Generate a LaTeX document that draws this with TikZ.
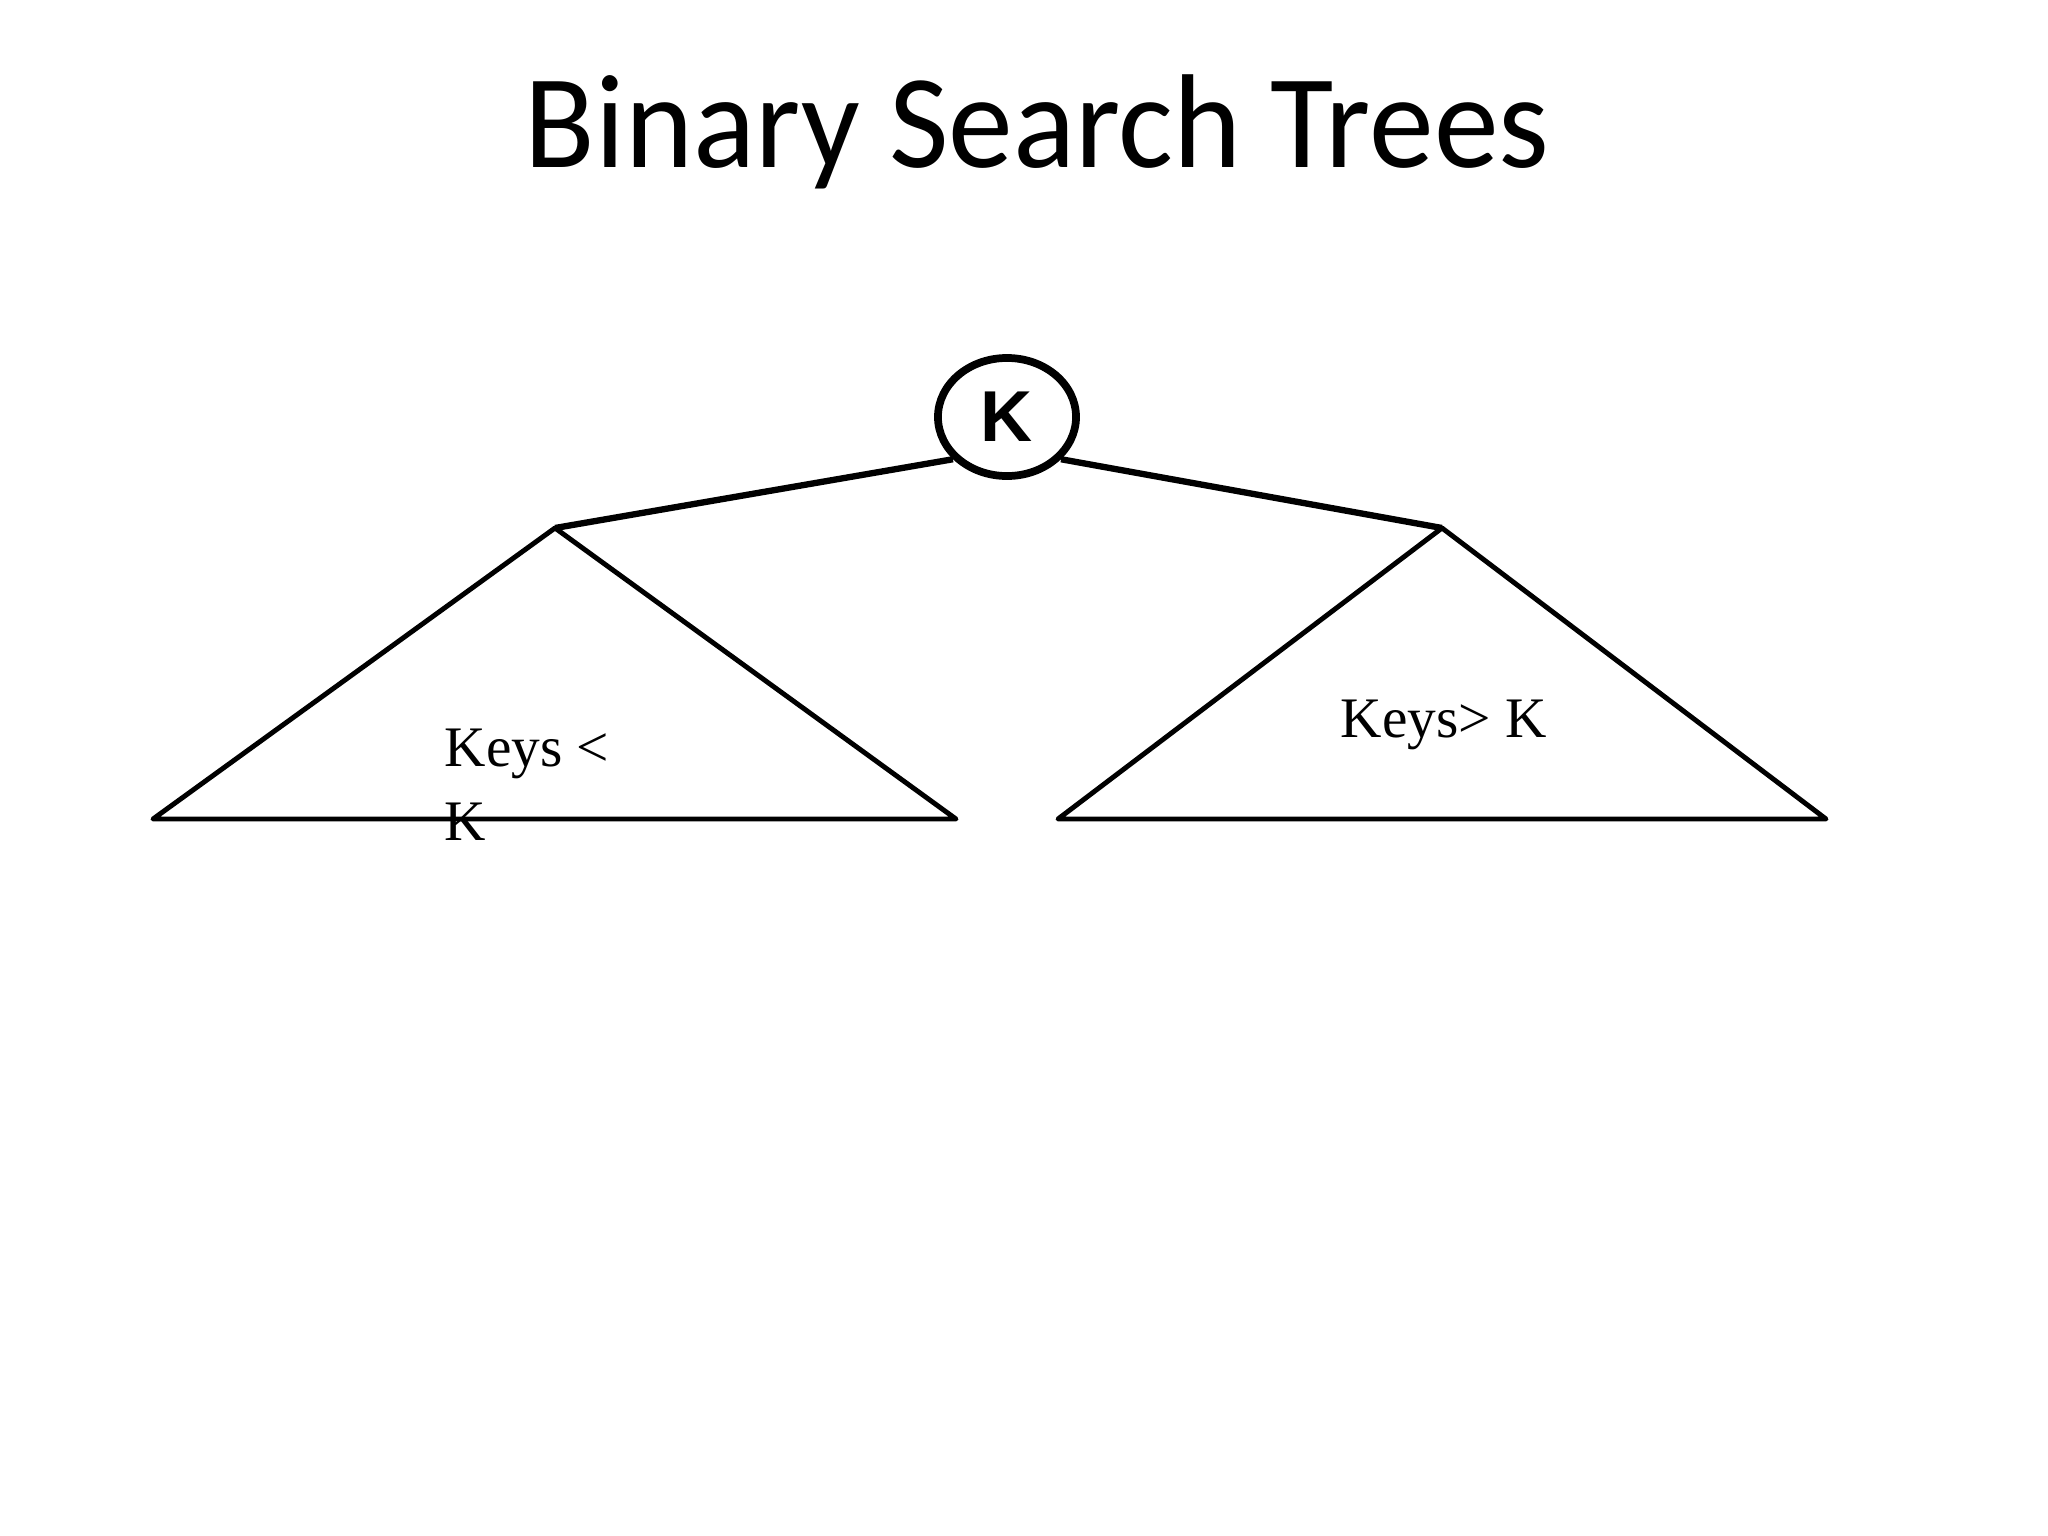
\documentclass[tikz,border=0pt]{standalone}
\usepackage{fontspec}
\setmainfont{Liberation Serif}
\newfontfamily\titlefont{Carlito}
\newfontfamily\rootfont{Liberation Sans}
\usetikzlibrary{shapes.geometric}

\begin{document}
\begin{tikzpicture}[x=0.01cm, y=-0.01cm,
    edge/.style={line width=1.8pt},
    subtree/.style={line width=1.4pt, line join=round, line cap=round},
    keylabel/.style={inner sep=0pt, font=\fontsize{16.3}{21}\selectfont}]
    \useasboundingbox (0,0) rectangle (2048,1536);

    % Draw the title
    \node[anchor=base] (title) at (1037,167) {\titlefont\scalebox{0.97}[1]{\fontsize{38}{44}\selectfont Binary Search Trees}};

    % Draw the root node
    \node[ellipse, draw, line width=2.2pt, inner sep=0pt, minimum width=1.38cm, minimum height=1.18cm] (root) at (1007,417) {\rootfont\bfseries\fontsize{20.5}{24}\selectfont K};

    % Apexes and base corners of the two subtrees
    \coordinate (lapex) at (555,528);
    \coordinate (lleft) at (153,819);
    \coordinate (lright) at (956,819);
    \coordinate (rapex) at (1442,528);
    \coordinate (rleft) at (1058,819);
    \coordinate (rright) at (1826,819);

    % Draw the edges from the root
    \draw[edge] (root.218) -- (lapex);
    \draw[edge] (root.322) -- (rapex);

    % Draw the subtrees
    \draw[subtree] (lapex) -- (lleft) -- (lright) -- cycle;
    \draw[subtree] (rapex) -- (rleft) -- (rright) -- cycle;

    % Label the subtrees
    \node[keylabel, anchor=north west, align=left] (lkeys) at (444,728) {Keys <\\K};
    \node[keylabel, anchor=base west] (rkeys) at (1340,737) {Keys> K};
\end{tikzpicture}
\end{document}
